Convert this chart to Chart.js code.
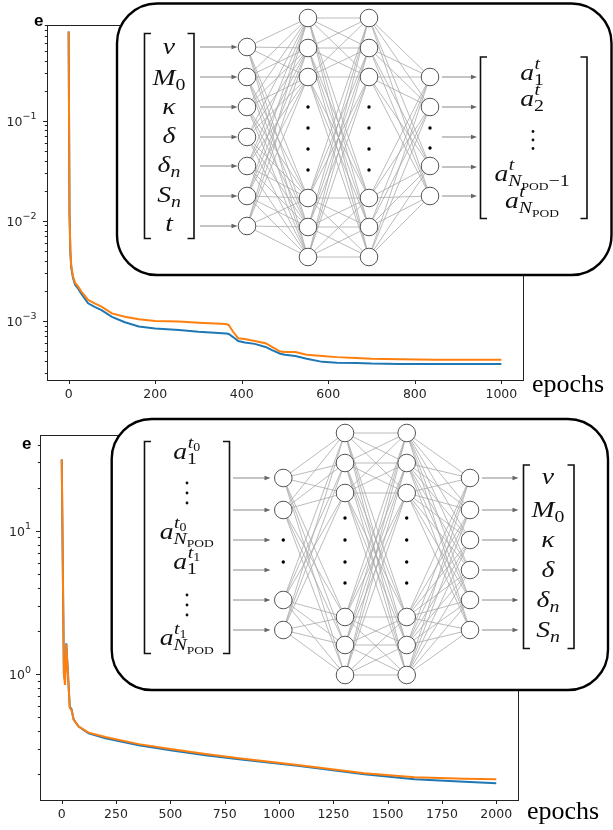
<!DOCTYPE html>
<html>
<head>
<meta charset="utf-8">
<script src="https://cdn.jsdelivr.net/npm/chart.js@4.4.1/dist/chart.umd.min.js"></script>
<style>
html,body{margin:0;padding:0;background:#fff;}
#page{position:relative;width:613px;height:830px;overflow:hidden;background:#fff;}
canvas{position:absolute;left:0;}
#c1{top:0;}
#c2{top:410px;}
#ov{position:absolute;left:0;top:0;}
.txt{position:absolute;white-space:nowrap;line-height:1;}
.e{font-family:'Liberation Sans',Arial,sans-serif;font-weight:bold;font-size:17px;color:#000;}
.ep{font-family:'Liberation Serif','Times New Roman',serif;font-size:26px;color:#000;}
</style>
</head>
<body>
<div id="page">
  <canvas id="c1" width="613" height="410" style="width:613px;height:410px"></canvas>
  <canvas id="c2" width="613" height="420" style="width:613px;height:420px"></canvas>
  <svg id="ov" width="613" height="830" xmlns="http://www.w3.org/2000/svg"></svg>
  <div class="txt e" style="left:34px;top:12px;">e</div>
  <div class="txt e" style="left:22px;top:435px;">e</div>
  <div class="txt ep" style="left:532px;top:371px;">epochs</div>
  <div class="txt ep" style="left:527px;top:798px;">epochs</div>
</div>
<script>
// ---------------- data ----------------
const topEpochs    = [0, 2, 4, 6, 10, 15, 22, 30, 45, 60, 76, 100, 130, 162, 200, 255, 300, 364, 370, 380, 392, 407, 430, 455, 470, 489, 500, 524, 550, 586, 620, 664, 700, 765, 850, 1000];
const topTrainLoss = [0.78, 0.012, 0.0048, 0.0034, 0.0027, 0.0023, 0.0021, 0.00185, 0.0015, 0.00138, 0.00128, 0.0011, 0.00097, 0.00088, 0.00084, 0.00081, 0.00078, 0.00075, 0.00074, 0.00069, 0.00063, 0.00061, 0.00059, 0.00055, 0.00051, 0.00047, 0.00046, 0.000447, 0.00042, 0.00039, 0.000383, 0.00038, 0.000375, 0.000372, 0.000372, 0.000372];
const topValLoss   = [0.78, 0.012, 0.005, 0.0036, 0.0028, 0.0024, 0.0022, 0.00195, 0.00162, 0.0015, 0.00139, 0.00119, 0.0011, 0.00104, 0.001, 0.00099, 0.00096, 0.00093, 0.00091, 0.00078, 0.00067, 0.00066, 0.00063, 0.0006, 0.00055, 0.000495, 0.00049, 0.00049, 0.00046, 0.000447, 0.000435, 0.000427, 0.00042, 0.000415, 0.00041, 0.00041];
const topXTicks    = [0, 200, 400, 600, 800, 1000];

const botEpochs    = [0, 10, 15, 21, 37, 45, 55, 78, 124, 201, 355, 508, 662, 816, 1086, 1393, 1624, 1854, 2000];
const botTrainLoss = [31.5, 1.0, 0.9, 1.64, 0.59, 0.57, 0.48, 0.43, 0.385, 0.356, 0.318, 0.292, 0.271, 0.254, 0.229, 0.2, 0.184, 0.177, 0.173];
const botValLoss   = [31.5, 1.0, 0.84, 1.62, 0.58, 0.56, 0.48, 0.43, 0.39, 0.363, 0.324, 0.298, 0.276, 0.258, 0.232, 0.203, 0.19, 0.186, 0.184];
const botXTicks    = [0, 250, 500, 750, 1000, 1250, 1500, 1750, 2000];

const BLUE = '#1f77b4', ORANGE = '#ff7f0e';
const TICK_FONT = "'DejaVu Sans', sans-serif";

// ---------------- helpers ----------------
function isPow10(v){ const l = Math.log10(v); return Math.abs(l - Math.round(l)) < 1e-6; }
function logTicks(min, max){
  const out = [];
  for (let e = Math.floor(Math.log10(min)); e <= Math.ceil(Math.log10(max)); e++)
    for (let m = 1; m < 10; m++){ const v = m * Math.pow(10, e); if (v >= min && v <= max) out.push(v); }
  return out;
}
const framePlugin = {
  id: 'frame',
  afterDraw(chart, args, opts){
    const {ctx, chartArea: a} = chart;
    const xs = chart.scales.x, ys = chart.scales.y;
    ctx.save();
    ctx.strokeStyle = '#222'; ctx.lineWidth = 1;
    ctx.strokeRect(Math.round(a.left) + 0.5, Math.round(a.top) + 0.5, Math.round(a.right - a.left), Math.round(a.bottom - a.top));
    ctx.beginPath();
    xs.ticks.forEach(t => {
      const px = Math.round(xs.getPixelForValue(t.value)) + 0.5;
      ctx.moveTo(px, a.bottom); ctx.lineTo(px, a.bottom + 4);
    });
    ys.ticks.forEach(t => {
      const py = Math.round(ys.getPixelForValue(t.value)) + 0.5;
      ctx.moveTo(a.left, py); ctx.lineTo(a.left - (isPow10(t.value) ? 4 : 2.2), py);
    });
    ctx.stroke();
    // power-of-ten labels with real superscripts
    ctx.fillStyle = '#262626';
    ctx.textBaseline = 'alphabetic';
    ys.ticks.forEach(t => {
      if (!isPow10(t.value)) return;
      const e = Math.round(Math.log10(t.value));
      const expStr = (e < 0 ? '\u2212' : '') + Math.abs(e);
      const py = ys.getPixelForValue(t.value);
      const right = a.left - opts.gap;
      ctx.font = `9.5px ${TICK_FONT}`;
      const we = ctx.measureText(expStr).width;
      ctx.textAlign = 'left';
      ctx.fillText(expStr, right - we, py - 1.5);
      ctx.font = `12.5px ${TICK_FONT}`;
      ctx.textAlign = 'right';
      ctx.fillText('10', right - we, py + 5);
    });
    ctx.restore();
  }
};
function makeChart(id, epochs, train, val, xTicks, xr, yr, padRight, yWidth, gap){
  const pts = arr => epochs.map((x, i) => ({x, y: arr[i]}));
  const font = {family: TICK_FONT, size: 12.5};
  return new Chart(document.getElementById(id), {
    type: 'line',
    data: {datasets: [
      {label: 'train', data: pts(train), borderColor: BLUE, borderWidth: 2, pointRadius: 0, tension: 0, order: 1},
      {label: 'validation', data: pts(val), borderColor: ORANGE, borderWidth: 2, pointRadius: 0, tension: 0, order: 0}
    ]},
    options: {
      responsive: false, animation: false, devicePixelRatio: 1,
      layout: {padding: {top: 25, right: padRight, left: 0, bottom: 0}},
      plugins: {legend: {display: false}, tooltip: {enabled: false}, frame: {gap}},
      scales: {
        x: {
          type: 'linear', min: xr[0], max: xr[1],
          afterBuildTicks: s => { s.ticks = xTicks.map(v => ({value: v})); },
          afterFit: s => { s.height = 30; },
          ticks: {autoSkip: false, maxRotation: 0, font, color: '#262626', padding: 3, callback: v => String(v)},
          grid: {display: true, drawOnChartArea: false, drawTicks: true, tickLength: 4, color: 'rgba(0,0,0,0)'},
          border: {display: false}
        },
        y: {
          type: 'logarithmic', min: yr[0], max: yr[1],
          afterBuildTicks: s => { s.ticks = logTicks(yr[0], yr[1]).map(v => ({value: v})); },
          afterFit: s => { s.width = yWidth; },
          ticks: {autoSkip: false, font, color: '#262626', callback: () => ''},
          grid: {display: true, drawOnChartArea: false, drawTicks: true, tickLength: 4, color: 'rgba(0,0,0,0)'},
          border: {display: false}
        }
      }
    },
    plugins: [framePlugin]
  });
}
makeChart('c1', topEpochs, topTrainLoss, topValLoss, topXTicks, [-50, 1050], [2.57e-4, 0.906], 90, 47, 10.5);
makeChart('c2', botEpochs, botTrainLoss, botValLoss, botXTicks, [-100, 2100], [0.132, 46.6], 95, 40, 9);

// ---------------- network diagrams (SVG overlay) ----------------
const NS = 'http://www.w3.org/2000/svg';
const svg = document.getElementById('ov');
function el(tag, attrs, parent){
  const e = document.createElementNS(NS, tag);
  for (const k in attrs) e.setAttribute(k, attrs[k]);
  (parent || svg).appendChild(e); return e;
}
const FS = 23, SC = 0.72, XS = 1.2;
function seq(g, parts, x, y, fs){
  for (const p of parts){
    if (p.sup){
      const xa = seq(g, p.sup, x + 0.5, y - (p.up || 0.47) * FS, fs * SC);
      const xb = seq(g, p.sub, x, y + (p.dn || 0.22) * FS, fs * SC);
      x = Math.max(xa, xb);
    } else if (p.sb){
      x = seq(g, p.sb, x, y + 0.22 * FS, fs * SC);
    } else {
      const size = fs * (p.s || 1);
      const t = el('text', {x: x, y: y + (p.d || 0) * fs, 'font-family': "'Liberation Serif','Times New Roman',serif",
        'font-size': size, 'font-style': p.i ? 'italic' : 'normal', fill: '#111'}, g);
      t.textContent = p.t;
      x += t.getComputedTextLength();
    }
  }
  return x;
}
function mathLabel(cx, base, parts){
  const g = el('g', {});
  const w = seq(g, parts, 0, 0, FS);
  g.setAttribute('transform', `translate(${(cx - w * XS / 2).toFixed(2)},${base}) scale(${XS},1)`);
}
function vdots(cx, cy, gap){
  [-1, 0, 1].forEach(k => el('circle', {cx, cy: cy + k * gap, r: 1.4, fill: '#111'}));
}
function bracket(x, y0, y1, dir){
  const s = 6.5 * dir;
  el('path', {d: `M${x + s},${y0} L${x},${y0} L${x},${y1} L${x + s},${y1}`, fill: 'none', stroke: '#111', 'stroke-width': 1.6});
}
function arrow(x1, x2, y){
  el('line', {x1, y1: y, x2: x2 - 4, y2: y, stroke: '#8a8a8a', 'stroke-width': 1});
  el('path', {d: `M${x2},${y} L${x2 - 6},${y - 2.2} L${x2 - 6},${y + 2.2} Z`, fill: '#666'});
}
function box(x0, y0, x1, y1, r){
  el('rect', {x: x0, y: y0, width: x1 - x0, height: y1 - y0, rx: r, ry: r, fill: '#fff', stroke: '#000', 'stroke-width': 2.4});
}
function net(layers){
  for (let i = 0; i < layers.length - 1; i++){
    const A = layers[i], B = layers[i + 1];
    A.nodes.forEach(ya => B.nodes.forEach(yb =>
      el('line', {x1: A.x, y1: ya, x2: B.x, y2: yb, stroke: '#a9a9a9', 'stroke-width': 0.8})));
  }
  layers.forEach(L => {
    L.nodes.forEach(y => el('circle', {cx: L.x, cy: y, r: 8.8, fill: '#fff', stroke: '#555', 'stroke-width': 1}));
    (L.dots || []).forEach(y => el('circle', {cx: L.x, cy: y, r: 1.7, fill: '#000'}));
  });
}
const it = t => ({t, i: 1});
const rm = t => ({t});
const NPOD = [it('N'), {t: 'POD', s: 0.68, d: 0.22}];

// ---- top diagram ----
box(117, 3.5, 611.5, 275, 40);
const tIn = [47, 77, 107, 137, 166, 196, 226];
net([
  {x: 247, nodes: tIn},
  {x: 308, nodes: [18, 48, 77, 198, 227, 257], dots: [107, 128, 149, 170]},
  {x: 369, nodes: [18, 48, 77, 198, 227, 257], dots: [107, 128, 149, 170]},
  {x: 430, nodes: [77, 107, 166, 196], dots: [128, 148]}
]);
tIn.forEach(y => arrow(200, 237.5, y));
[77, 107, 137, 167, 196].forEach(y => arrow(442, 477, y));
bracket(144.5, 33.5, 238.5, 1);
bracket(194, 33.5, 238.5, -1);
bracket(480.5, 57, 218.5, 1);
bracket(587, 57, 218.5, -1);
const topInLabels = [[it('ν')], [it('M'), {sb: [rm('0')]}], [it('κ')], [it('δ')], [it('δ'), {sb: [it('n')]}], [it('S'), {sb: [it('n')]}], [it('t')]];
const topInBase = [54, 85, 113.5, 142.5, 171.5, 201.5, 231];
topInLabels.forEach((p, i) => mathLabel(169, topInBase[i], p));
mathLabel(532, 80, [it('a'), {sup: [it('t')], sub: [rm('1')]}]);
mathLabel(532, 106, [it('a'), {sup: [it('t')], sub: [rm('2')]}]);
vdots(533, 140, 8.5);
mathLabel(532, 181, [it('a'), {sup: [it('t')], sub: [...NPOD, rm('\u22121')]}]);
mathLabel(532, 208, [it('a'), {sup: [it('t')], sub: NPOD}]);

// ---- bottom diagram ----
box(111.7, 419, 608, 690, 40);
const bIn = [478, 510, 540, 570, 600, 630];
net([
  {x: 283.3, nodes: [478, 510, 600, 630], dots: [540, 562]},
  {x: 345, nodes: [433, 463, 493, 617, 645, 675], dots: [518, 540, 562, 583]},
  {x: 406.7, nodes: [433, 463, 493, 617, 645, 675], dots: [518, 540, 562, 583]},
  {x: 470, nodes: bIn}
]);
bIn.forEach(y => arrow(233, 270.5, y));
bIn.forEach(y => arrow(482, 518.5, y));
bracket(144.5, 441.5, 653.5, 1);
bracket(229.5, 441.5, 653.5, -1);
bracket(523.5, 465, 648.5, 1);
bracket(574, 465, 648.5, -1);
const t0 = [it('t'), {t: '0', s: 0.7, d: 0.22}];
const t1 = [it('t'), {t: '1', s: 0.7, d: 0.22}];
mathLabel(186.7, 458.5, [it('a'), {sup: t0, sub: [rm('1')]}]);
vdots(187, 493, 10);
mathLabel(186.7, 538.5, [it('a'), {sup: t0, sub: NPOD}]);
mathLabel(186.7, 568.5, [it('a'), {sup: t1, sub: [rm('1')]}]);
vdots(187, 605, 10);
mathLabel(186.7, 645, [it('a'), {sup: t1, sub: NPOD}]);
const botOutLabels = topInLabels.slice(0, 6);
const botOutBase = [483.5, 516.5, 546.5, 577, 606.5, 636.5];
botOutLabels.forEach((p, i) => mathLabel(548, botOutBase[i], p));
</script>
</body>
</html>
